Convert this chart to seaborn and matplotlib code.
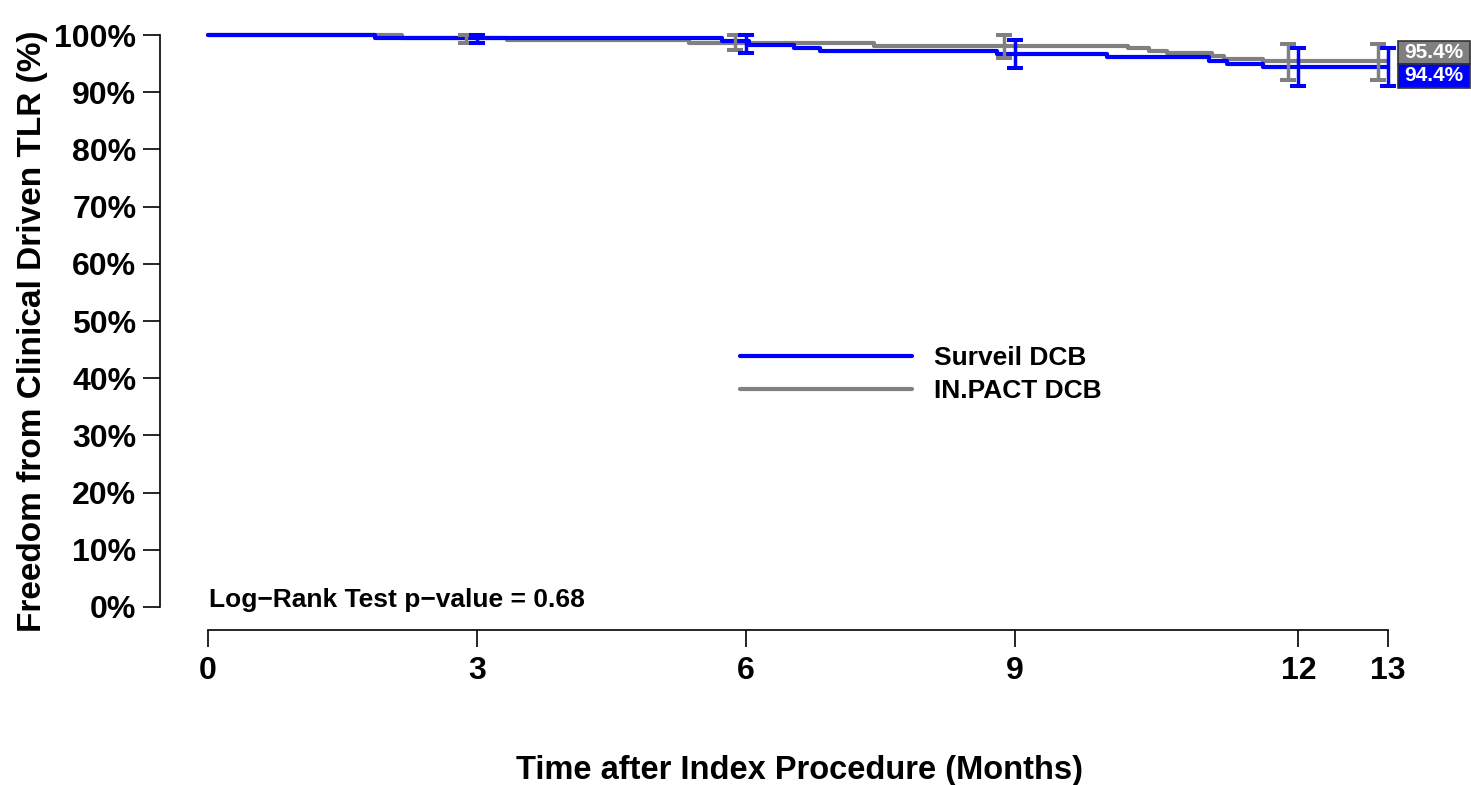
import numpy as np
import pandas as pd
import seaborn as sns
import matplotlib.pyplot as plt
from matplotlib.patches import Rectangle
from matplotlib.lines import Line2D

sns.set_style("ticks")
plt.rcParams['font.family'] = ['Liberation Sans', 'DejaVu Sans']
plt.rcParams['font.weight'] = 'bold'
plt.rcParams['text.color'] = 'black'
plt.rcParams['axes.labelcolor'] = 'black'
plt.rcParams['xtick.color'] = 'black'
plt.rcParams['ytick.color'] = 'black'

# --- data (time in days, survival in %) ---
arms = ["Surveil DCB", "IN.PACT DCB"]
colors = ["#0000FF", "#808080"]

surveil_days = [0, 56, 172, 181, 196, 205, 264, 301, 335, 341, 353, 395]
surveil_surv = [100, 99.44, 98.88, 98.32, 97.76, 97.2, 96.64, 96.08, 95.52, 94.96, 94.4, 94.4]
inpact_days = [0, 65, 100, 161, 223, 308, 315, 321, 336, 340, 353, 395]
inpact_surv = [100, 99.54, 99.08, 98.62, 98.16, 97.70, 97.24, 96.78, 96.32, 95.86, 95.40, 95.40]

# milestone estimates with 95% CI
milestone_days = [90, 180, 270, 365, 395]
surveil_est = [99.44, 98.88, 96.64, 94.4, 94.4]
surveil_lo = [98.6, 96.8, 94.3, 91.1, 91.1]
surveil_hi = [100, 100, 99.2, 97.8, 97.8]
inpact_est = [99.54, 98.62, 98.16, 95.4, 95.4]
inpact_lo = [98.6, 97.3, 95.9, 92.2, 92.2]
inpact_hi = [100, 100, 100, 98.4, 98.4]

final_labels = ["94.4%", "95.4%"]
final_vals = [94.4, 95.4]

xtick_days = [0, 90, 180, 270, 365, 395]
xtick_labels = ["0", "3", "6", "9", "12", "13"]
p_value = 0.68

df = pd.concat([
    pd.DataFrame({"day": surveil_days, "surv": surveil_surv, "arm": arms[0]}),
    pd.DataFrame({"day": inpact_days, "surv": inpact_surv, "arm": arms[1]}),
])

# --- layout in pixels ---
W, H = 1471, 785
fig = plt.figure(figsize=(W / 100, H / 100), dpi=100)
px_day = (1388 - 208) / 395
px_pct = (607 - 35) / 100
left, right, top, bot = 160, 1435, 12, 630
ax = fig.add_axes([left / W, 1 - bot / H, (right - left) / W, (bot - top) / H])
ax.set_xlim((left - 208) / px_day, (right - 208) / px_day)
ax.set_ylim(-(bot - 607) / px_pct, (607 - top) / px_pct)

# curves: gray first, blue on top
for arm, col, z in [(arms[1], colors[1], 2), (arms[0], colors[0], 3)]:
    sub = df[df["arm"] == arm]
    sns.lineplot(data=sub, x="day", y="surv", color=col, linewidth=3.0,
                 drawstyle="steps-post", estimator=None, sort=False,
                 ax=ax, zorder=z, legend=False)

# confidence interval bars
offset = -3.5
for days, est, lo, hi, col, dx in [
        (milestone_days, inpact_est, inpact_lo, inpact_hi, colors[1], offset),
        (milestone_days, surveil_est, surveil_lo, surveil_hi, colors[0], 0)]:
    est = np.array(est)
    ax.errorbar(np.array(days) + dx, est,
                yerr=[est - np.array(lo), np.array(hi) - est],
                fmt="none", ecolor=col, elinewidth=2.5, capsize=5.5,
                capthick=2.9, zorder=4)

# final value boxes at right edge
box_h = 4.1
mid = np.mean(final_vals)
box_x0 = 398.4
box_w = 24.1
for lab, val, col in [(final_labels[1], final_vals[1], colors[1]),
                      (final_labels[0], final_vals[0], colors[0])]:
    yc = mid + box_h / 2 if val >= mid else mid - box_h / 2
    ax.add_patch(Rectangle((box_x0, yc - box_h / 2), box_w, box_h,
                           facecolor=col, edgecolor="#333333", linewidth=1.2,
                           clip_on=False, zorder=5))
    ax.text(box_x0 + box_w / 2, yc, lab, ha="center", va="center",
            color="white", fontsize=15, fontweight="bold", clip_on=False,
            zorder=6)

# log-rank text
ax.text(0.5, 0, f"Log\u2212Rank Test p\u2212value = {p_value:.2f}",
        fontsize=19, fontweight="bold", ha="left", va="baseline")

# legend
handles = [Line2D([], [], color=c, linewidth=3) for c in colors]
ax.legend(handles, arms, loc="center left", frameon=False,
          bbox_to_anchor=(740 / W, 1 - 374.5 / H), bbox_transform=fig.transFigure,
          handlelength=6.5, handletextpad=0.85,
          labelspacing=0.35, borderpad=0, borderaxespad=0,
          prop={"weight": "bold", "size": 19})

# axes styling
sns.despine(ax=ax)
ax.spines["left"].set_bounds(0, 100)
ax.spines["bottom"].set_bounds(0, 395)
for s in ["left", "bottom"]:
    ax.spines[s].set_linewidth(1.2)
    ax.spines[s].set_color("black")
ax.set_yticks(range(0, 101, 10))
ax.set_yticklabels([f"{v}%" for v in range(0, 101, 10)])
ax.set_xticks(xtick_days)
ax.set_xticklabels(xtick_labels)
ax.tick_params(axis="both", length=12, width=1.2, color="black",
               labelcolor="black", labelsize=23)
ax.tick_params(axis="y", pad=5)
ax.tick_params(axis="x", pad=7)
for t in ax.get_xticklabels() + ax.get_yticklabels():
    t.set_fontweight("bold")

ax.set_xlabel("Time after Index Procedure (Months)", fontsize=23.5,
              fontweight="bold")
ax.set_ylabel("Freedom from Clinical Driven TLR (%)", fontsize=24,
              fontweight="bold")
ax.xaxis.set_label_coords((799 - left) / (right - left), -(770 - bot) / (bot - top))
ax.xaxis.label.set_va("center")
ax.yaxis.set_label_coords((33 - left) / (right - left), 1 - (331 - top) / (bot - top))
ax.yaxis.label.set_va("center")

fig.savefig("out.png", dpi=100)
plt.close(fig)
